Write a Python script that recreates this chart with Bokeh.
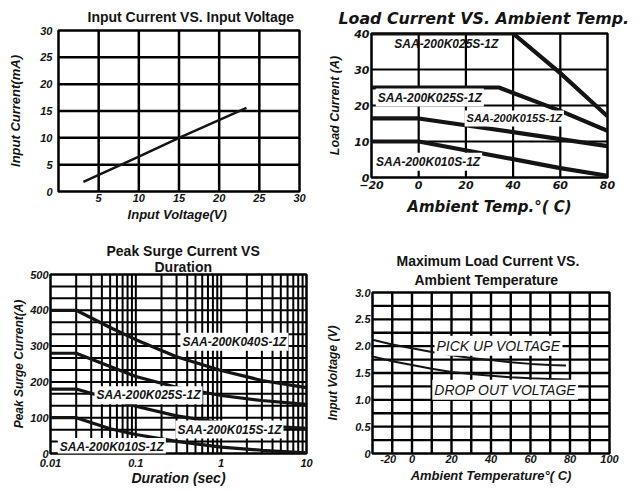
import numpy as np
from bokeh.plotting import figure
from bokeh.models import FixedTicker, Label, Title
from bokeh.layouts import column, row
from bokeh.embed import file_html
from bokeh.resources import INLINE

# ---------------- data ----------------
# Chart 1: Input Current vs Input Voltage
input_voltage = [3.1, 10, 15, 23.4]
input_current = [1.8, 6.5, 10.0, 15.6]

# Chart 2: Load Current vs Ambient Temp
temp_a = [-20, 40, 60, 80]
load_a = [40, 40, 29, 17]
temp_b = [-20, 34, 60, 80]
load_b = [25, 25, 18.5, 13]
temp_c = [-20, 0, 40, 80]
load_c = [16.4, 16.4, 12.6, 8.7]
temp_d = [-20, 0, 40, 60, 80]
load_d = [10, 10, 5.1, 2.6, 0.5]
load_labels = ["SAA-200K025S-1Z", "SAA-200K025S-1Z", "SAA-200K015S-1Z", "SAA-200K010S-1Z"]

# Chart 3: Peak Surge Current vs Duration
duration = [0.01, 0.02, 0.05, 0.1, 0.3, 1, 3, 10]
surge_040 = [400, 400, 352, 318, 270, 232, 204, 184]
surge_025 = [280, 280, 243, 215, 185, 162, 148, 137]
surge_015 = [180, 180, 153, 132, 105, 86, 77, 70]
surge_010 = [100, 100, 69, 53, 34, 18, 9, 2]
surge_labels = ["SAA-200K040S-1Z", "SAA-200K025S-1Z", "SAA-200K015S-1Z", "SAA-200K010S-1Z"]

# Chart 4: Pick up / drop out voltage vs ambient temperature
temp_pick = [-20, -10, 0, 10, 20, 30, 40, 50, 60, 70, 78]
pick_up = [2.12, 2.03, 1.96, 1.89, 1.83, 1.78, 1.74, 1.70, 1.67, 1.65, 1.64]
temp_drop = [-20, -10, 0, 10, 20, 30, 40, 50, 60, 70, 80]
drop_out = [1.81, 1.72, 1.65, 1.58, 1.52, 1.48, 1.45, 1.42, 1.40, 1.39, 1.38]

ARIAL = "Liberation Sans"
WIDE = "DejaVu Sans"
INK = "#141414"


def make_fig(w, h, borders, xr, yr, xtype="linear"):
    p = figure(width=w, height=h, x_range=xr, y_range=yr, x_axis_type=xtype,
               output_backend="svg", toolbar_location=None, title=None,
               min_border_left=borders[0], min_border_right=borders[1],
               min_border_top=borders[2], min_border_bottom=borders[3])
    p.outline_line_color = "black"
    p.outline_line_width = 2.5
    p.outline_line_alpha = 1
    p.background_fill_color = "white"
    p.border_fill_color = "white"
    p.grid.visible = False
    for ax in p.axis:
        ax.major_tick_out = 0
        ax.major_tick_in = 0
        ax.minor_tick_out = 0
        ax.minor_tick_in = 0
        ax.axis_line_color = None
        ax.major_label_text_font = ARIAL
        ax.major_label_text_font_style = "bold italic"
        ax.major_label_text_font_size = "11px"
        ax.major_label_text_color = INK
        ax.axis_label_text_font = ARIAL
        ax.axis_label_text_font_style = "bold italic"
        ax.axis_label_text_font_size = "13px"
        ax.axis_label_text_color = INK
    return p


def add_grid(p, xs, ys, xr, yr, width):
    # each grid line drawn as its own two-point line through the plot's scales
    for g in xs:
        p.line([g, g], [yr[0], yr[1]], line_color="black", line_width=width)
    for g in ys:
        p.line([xr[0], xr[1]], [g, g], line_color="black", line_width=width)


def add_bar_grid(p, xs, ys, xr, yr, width):
    # grid drawn as thin filled bars, thickness in screen pixels
    xmid, ymid = (xr[0] + xr[1]) / 2, (yr[0] + yr[1]) / 2
    p.rect(x=list(xs), y=[ymid] * len(xs), width=width, height=yr[1] - yr[0],
           width_units="screen", fill_color="black", line_color=None)
    p.rect(x=[xmid] * len(ys), y=list(ys), width=xr[1] - xr[0], height=width,
           height_units="screen", fill_color="black", line_color=None)


def add_title(p, text, size, style, offset, standoff, font=ARIAL):
    p.add_layout(Title(text=text, align="left", offset=offset, standoff=standoff,
                       text_font=font, text_font_size=size, text_font_style=style,
                       text_color=INK), "above")


def add_label(p, x, y, text, size, style="bold italic", bg="white"):
    p.add_layout(Label(x=x, y=y, text=text, text_align="center", text_baseline="middle",
                       text_font=ARIAL, text_font_size=size, text_font_style=style,
                       text_color=INK, background_fill_color=bg, padding=2))


# ---------------- chart 1 ----------------
x1r, y1r = (0, 30), (0, 30)
p1 = make_fig(320, 240, (58, 21, 29, 49), x1r, y1r)
add_title(p1, "Input Current VS. Input Voltage", "14px", "bold", 29, 12)
p1.xaxis.ticker = FixedTicker(ticks=[5, 10, 15, 20, 25, 30])
p1.yaxis.ticker = FixedTicker(ticks=[0, 5, 10, 15, 20, 25, 30])
add_bar_grid(p1, [5, 10, 15, 20, 25], [5, 10, 15, 20, 25], x1r, y1r, 2.5)
p1.xaxis.axis_label = "Input  Voltage(V)"
p1.yaxis.axis_label = "Input Current(mA)"
p1.xaxis.major_label_standoff = 2
p1.yaxis.major_label_standoff = 6
p1.xaxis.axis_label_standoff = 2
p1.yaxis.axis_label_standoff = 14
p1.line(input_voltage, input_current, line_color=INK, line_width=2.5)

# ---------------- chart 2 ----------------
x2r, y2r = (-20, 80), (0, 40)
p2 = make_fig(318, 240, (51, 31, 33, 63), x2r, y2r)
add_title(p2, "Load Current VS.  Ambient Temp.", "15.8px", "bold italic", -33, 12, font=WIDE)
p2.xaxis.ticker = FixedTicker(ticks=[-20, 0, 20, 40, 60, 80])
p2.yaxis.ticker = FixedTicker(ticks=[0, 10, 20, 30, 40])
add_bar_grid(p2, [0, 20, 40, 60], [10, 20, 30], x2r, y2r, 2.2)
for ax in p2.axis:
    ax.major_label_text_font = WIDE
p2.xaxis.axis_label = "Ambient Temp.°( C)"
p2.xaxis.axis_label_text_font = WIDE
p2.xaxis.axis_label_text_font_size = "15px"
p2.yaxis.axis_label = "Load Current (A)"
p2.yaxis.axis_label_text_font_size = "12.5px"
p2.xaxis.major_label_standoff = 3
p2.yaxis.major_label_standoff = 2
p2.xaxis.axis_label_standoff = 6
p2.yaxis.axis_label_standoff = 9
for xs, ys in [(temp_a, load_a), (temp_b, load_b), (temp_c, load_c), (temp_d, load_d)]:
    p2.line(xs, ys, line_color=INK, line_width=4.2)
add_label(p2, 11.7, 37.0, load_labels[0], "12px", bg=None)
add_label(p2, 4.7, 22.2, load_labels[1], "12px")
add_label(p2, 40.5, 16.4, load_labels[2], "11px")
add_label(p2, 4.0, 4.4, load_labels[3], "12px")

# ---------------- chart 3 ----------------
x3r, y3r = (0.01, 10), (0, 500)
p3 = make_fig(320, 250, (50, 14, 34, 37), x3r, y3r, xtype="log")
add_title(p3, "Duration", "14px", "bold", 104, 0)
add_title(p3, "Peak Surge Current VS", "14px", "bold", 56, -5)
p3.xaxis.ticker = FixedTicker(ticks=[0.01, 0.1, 1, 10])
p3.xaxis.major_label_overrides = {0.01: "0.01", 0.1: "0.1", 1: "1", 10: "10"}
p3.yaxis.ticker = FixedTicker(ticks=[0, 100, 200, 300, 400, 500])
log_grid = [k * 10.0 ** e for e in (-2, -1, 0) for k in range(2, 10)] + [0.1, 1]
add_grid(p3, log_grid, list(np.linspace(0, 500, 16)[1:-1]), x3r, y3r, 2.0)
p3.xaxis.axis_label = "Duration (sec)"
p3.yaxis.axis_label = "Peak Surge Current(A)"
p3.xaxis.axis_label_text_font_size = "14px"
p3.yaxis.axis_label_text_font_size = "12px"
p3.xaxis.major_label_standoff = 5
p3.yaxis.major_label_standoff = 2
p3.xaxis.axis_label_standoff = 0
p3.yaxis.axis_label_standoff = 1
for ys in [surge_040, surge_025, surge_015, surge_010]:
    p3.line(duration, ys, line_color=INK, line_width=3.2)
add_label(p3, 1.43, 312, surge_labels[0], "12px")
add_label(p3, 0.1407, 163, surge_labels[1], "12px")
add_label(p3, 1.25, 67, surge_labels[2], "12px")
add_label(p3, 0.0523, 18, surge_labels[3], "12px")

# ---------------- chart 4 ----------------
x4r, y4r = (-20, 100), (0, 3)
p4 = make_fig(318, 250, (52, 29, 52, 37), x4r, y4r)
add_title(p4, "Ambient  Temperature", "14px", "bold", 42, 9)
add_title(p4, "Maximum Load Current VS.", "14px", "bold", 24, -7)
p4.xaxis.ticker = FixedTicker(ticks=[-12, 0, 20, 40, 60, 80, 100])
p4.xaxis.major_label_overrides = {-12: "-20"}
p4.yaxis.ticker = FixedTicker(ticks=[0, 0.5, 1, 1.5, 2, 2.5, 3])
p4.yaxis.major_label_overrides = {0: "0", 0.5: "0.5", 1: "1.0", 1.5: "1.5",
                                  2: "2.0", 2.5: "2.5", 3: "3.0"}
add_grid(p4, list(range(-10, 100, 10)), list(np.arange(0.25, 3.0, 0.25)), x4r, y4r, 2.4)
p4.xaxis.axis_label = "Ambient Temperature°( C)"
p4.yaxis.axis_label = "Input Voltage (V)"
p4.yaxis.axis_label_text_font_size = "12px"
p4.xaxis.major_label_standoff = 1
p4.yaxis.major_label_standoff = 2
p4.xaxis.axis_label_standoff = 2
p4.yaxis.axis_label_standoff = 12
p4.line(temp_pick, pick_up, line_color=INK, line_width=2)
p4.line(temp_drop, drop_out, line_color=INK, line_width=2)
add_label(p4, 43.8, 2.01, "PICK UP VOLTAGE", "14px", style="italic")
add_label(p4, 47.2, 1.19, "DROP OUT VOLTAGE", "14px", style="italic")

layout = column(row(column(p1), column(p2)), row(column(p3), column(p4)))
open("out.html", "w").write(file_html(layout, INLINE))
